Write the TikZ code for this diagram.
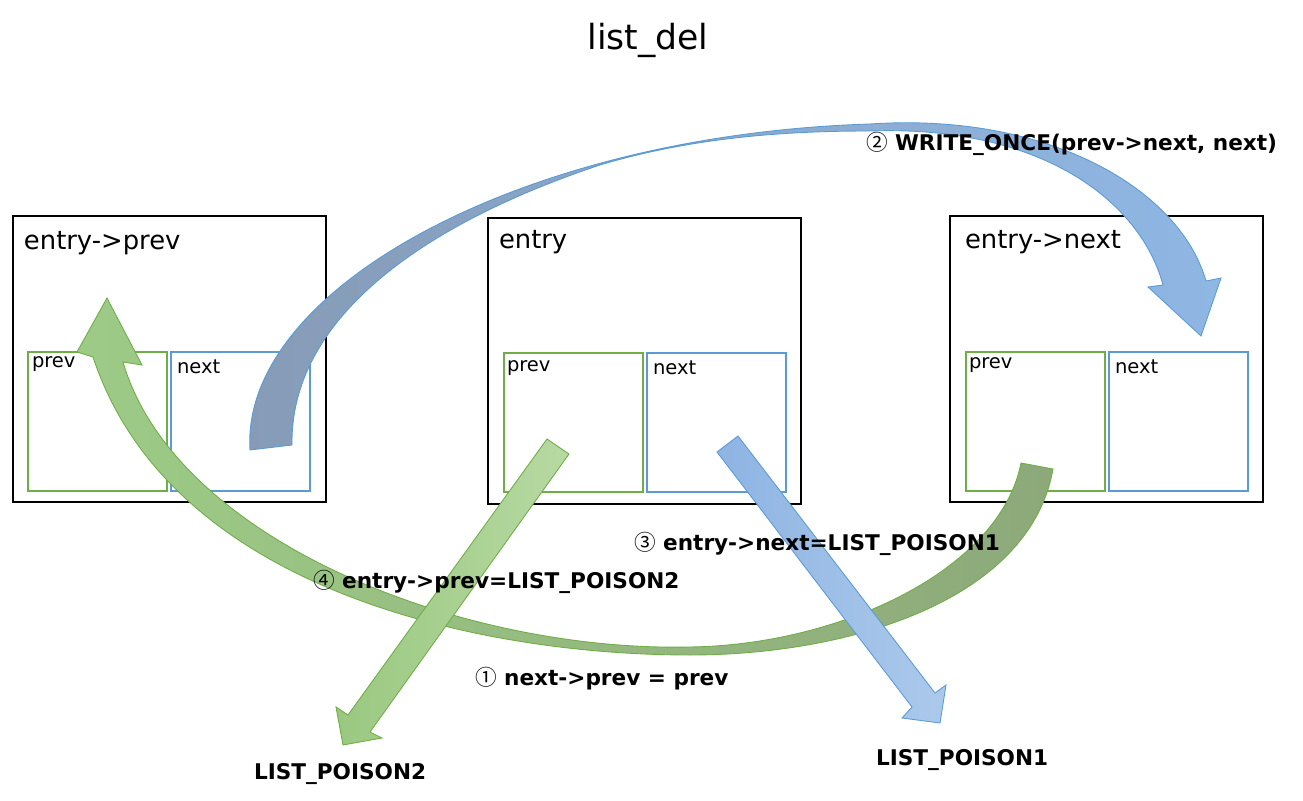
\documentclass[tikz,border=0pt]{standalone}
\usepackage{fontspec}
\setmainfont{DejaVu Sans}
\newfontfamily\circfont{Noto Sans CJK KR}
\usetikzlibrary{positioning}
\definecolor{prevborder}{RGB}{112,173,71}
\definecolor{nextborder}{RGB}{91,155,213}
\definecolor{arcblueL}{RGB}{134,155,182}
\definecolor{arcblueR}{RGB}{143,183,228}
\definecolor{arcgreenL}{RGB}{157,203,134}
\definecolor{arcgreenR}{RGB}{141,169,122}
\definecolor{poisongreenL}{RGB}{154,200,128}
\definecolor{poisongreenR}{RGB}{183,217,163}
\definecolor{poisonblueL}{RGB}{142,180,227}
\definecolor{poisonblueR}{RGB}{172,201,235}
\newcommand{\stepno}[1]{{\circfont\mdseries #1}}

\begin{document}
\begin{tikzpicture}[
    x=0.02cm, y=-0.02cm,
    every node/.style={inner sep=0pt, outer sep=0pt},
    listbox/.style={draw=black, line width=1.1pt, anchor=north west,
                    minimum width=6.26cm, minimum height=5.72cm},
    fieldbox/.style={line width=1.1pt, anchor=north west,
                     minimum width=2.78cm, minimum height=2.78cm},
    prevbox/.style={fieldbox, draw=prevborder},
    nextbox/.style={fieldbox, draw=nextborder},
    boxlabel/.style={anchor=base west, font=\fontsize{14.7}{17}\selectfont},
    fieldlabel/.style={anchor=base west, font=\fontsize{11.1}{13}\selectfont},
    steplabel/.style={anchor=base west, font=\fontsize{12.3}{15}\selectfont\bfseries},
    greenarr/.style={draw=prevborder, line width=0.5pt},
    bluearr/.style={draw=nextborder, line width=0.5pt},
]
\useasboundingbox (0,0) rectangle (1303,801);

%% ── Title ────────────────────────────────────────────────────────────────────
\node[anchor=base, font=\fontsize{19.7}{23}\selectfont] (title) at (648,50) {list\_del};

%% ── List entries ─────────────────────────────────────────────────────────────
\node[listbox] (eprev) at (13,216) {};
\node[listbox] (entry) at (488,218) {};
\node[listbox] (enext) at (950,216) {};

\node[boxlabel] (eprevlbl) at (24,249)  {entry->prev};
\node[boxlabel] (entrylbl) at (499,248) {entry};
\node[boxlabel] (enextlbl) at (965,248) {entry->next};

%% ── prev / next fields ───────────────────────────────────────────────────────
\node[prevbox] (eprev-p) at (28,352) {};
\node[nextbox, right=0.08cm of eprev-p] (eprev-n) {};
\node[prevbox] (entry-p) at (504,353) {};
\node[nextbox, right=0.08cm of entry-p] (entry-n) {};
\node[prevbox] (enext-p) at (966,352) {};
\node[nextbox, right=0.08cm of enext-p] (enext-n) {};

\node[fieldlabel] at (32,367)   {prev};
\node[fieldlabel] at (177,373)  {next};
\node[fieldlabel] at (507,371)  {prev};
\node[fieldlabel] at (653,374)  {next};
\node[fieldlabel] at (969,368)  {prev};
\node[fieldlabel] at (1115,373) {next};

%% ── (1) next->prev = prev : curved arrow, right to left ──────────────────────
\shadedraw[greenarr, left color=arcgreenL, right color=arcgreenR]
  (1053,469) .. controls (1030,600) and (850,655) .. (690,655)
             .. controls (480,655) and (170,590) .. (93,357)
  -- (77,352) -- (107,298) -- (142,365) -- (123,362)
             .. controls (175,540) and (460,652) .. (690,647)
             .. controls (840,645) and (1000,570) .. (1021,463)
  -- cycle;

%% ── (2) WRITE_ONCE(prev->next, next) : curved arrow, left to right ────────────
\shadedraw[bluearr, left color=arcblueL, right color=arcblueR]
  (250,450) .. controls (240,290) and (520,135) .. (870,124)
            .. controls (1050,112) and (1180,190) .. (1206,281)
  -- (1221,278) -- (1201,336) -- (1148,287) -- (1163,285)
            .. controls (1140,200) and (1040,125) .. (870,131)
            .. controls (800,131) and (700,135) .. (600,165)
            .. controls (420,225) and (290,320) .. (292,445)
  -- cycle;

%% ── (3) and (4): poison arrows ───────────────────────────────────────────────
\shadedraw[greenarr, left color=poisongreenL, right color=poisongreenR]
  (547,439) -- (348,715) -- (336,707) -- (343,745) -- (382,738) -- (370,732)
  -- (569,454) -- cycle;
\shadedraw[bluearr, left color=poisonblueL, right color=poisonblueR]
  (717,452) -- (912,707) -- (902,718) -- (940,723) -- (946,685) -- (935,693)
  -- (738,436) -- cycle;

%% ── Step labels ──────────────────────────────────────────────────────────────
\node[steplabel] (step1) at (475,685) {\stepno{①} next->prev = prev};
\node[steplabel] (step2) at (866,150) {\stepno{②} WRITE\_ONCE(prev->next, next)};
\node[steplabel] (step3) at (634,550) {\stepno{③} entry->next=LIST\_POISON1};
\node[steplabel] (step4) at (313,588) {\stepno{④} entry->prev=LIST\_POISON2};

\node[steplabel] (poison2) at (254,779) {LIST\_POISON2};
\node[steplabel] (poison1) at (876,765) {LIST\_POISON1};

\end{tikzpicture}
\end{document}
